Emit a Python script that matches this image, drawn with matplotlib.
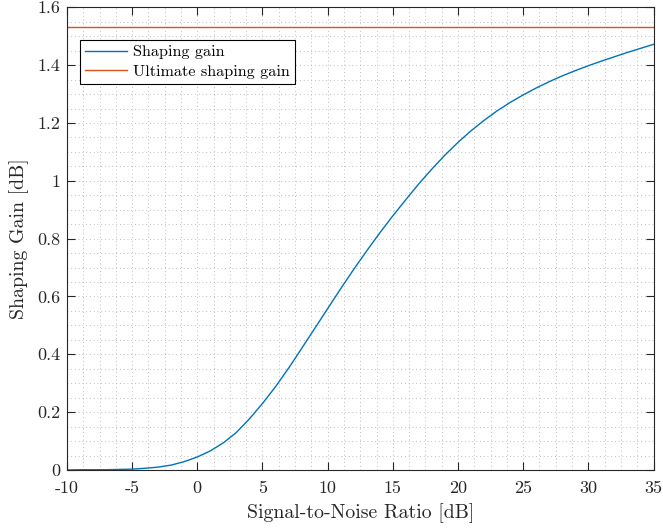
import numpy as np
import matplotlib
matplotlib.use("Agg")
import matplotlib.pyplot as plt
from matplotlib.ticker import MultipleLocator, FuncFormatter

plt.rcParams["font.family"] = "cmr10"
plt.rcParams["mathtext.fontset"] = "cm"
plt.rcParams["axes.unicode_minus"] = False
plt.rcParams["axes.formatter.use_mathtext"] = False

# Shaping gain versus SNR
snr_db = list(range(-10, 36))
shaping_gain_db = [
    0.000, 0.001, 0.001, 0.001, 0.002, 0.003, 0.006, 0.010, 0.017, 0.029,
    0.045, 0.066, 0.094, 0.130, 0.177, 0.230, 0.288, 0.352, 0.420, 0.489,
    0.558, 0.627, 0.694, 0.758, 0.820, 0.879, 0.935, 0.990, 1.041, 1.089,
    1.133, 1.173, 1.209, 1.242, 1.271, 1.297, 1.321, 1.343, 1.363, 1.381,
    1.398, 1.414, 1.429, 1.444, 1.458, 1.472,
]
ultimate_gain_db = 10 * np.log10(np.pi * np.e / 6)

x_ticks = [-10, -5, 0, 5, 10, 15, 20, 25, 30, 35]
y_ticks = [0, 0.2, 0.4, 0.6, 0.8, 1.0, 1.2, 1.4, 1.6]

blue = "#0072BD"
orange = "#D95319"
axis_col = "#262626"

fig = plt.figure(figsize=(6.63, 5.30), dpi=100)
ax = fig.add_axes([0.101, 0.1132, 0.8847, 0.873])

ax.plot(snr_db, shaping_gain_db, color=blue, lw=1.0, label="Shaping gain")
ax.axhline(ultimate_gain_db, color=orange, lw=1.0, label="Ultimate shaping gain")

ax.set_xlim(-10, 35)
ax.set_ylim(0, 1.6)
ax.set_xticks(x_ticks)
ax.set_yticks(y_ticks)
ax.xaxis.set_minor_locator(MultipleLocator(1.25))
ax.yaxis.set_minor_locator(MultipleLocator(0.05))
ax.yaxis.set_major_formatter(FuncFormatter(lambda v, p: f"{v:g}"))
ax.xaxis.set_major_formatter(FuncFormatter(lambda v, p: f"{v:g}"))

ax.grid(True, which="both", linestyle=(0, (1, 3.5)), color="#a8a8a8", lw=0.6)
ax.set_axisbelow(True)

ax.tick_params(which="major", direction="in", length=6, width=0.8,
               top=True, right=True, colors=axis_col, labelsize=13,
               labelcolor="#262626", pad=5)
ax.tick_params(axis="x", which="major", pad=8)
ax.tick_params(which="minor", length=0, top=True, right=True)
for s in ax.spines.values():
    s.set_color(axis_col)
    s.set_linewidth(0.8)

ax.set_xlabel("Signal-to-Noise Ratio [dB]", fontsize=14.3, color="#262626", labelpad=5)
ax.set_ylabel("Shaping Gain [dB]", fontsize=14.3, color="#262626", labelpad=6)

leg = ax.legend(loc="upper left", bbox_to_anchor=(0.022, 0.929), fontsize=11.7,
                frameon=True, fancybox=False, edgecolor="black",
                framealpha=1, handlelength=2.6, borderpad=0.3,
                labelspacing=0.3, handletextpad=0.4, borderaxespad=0)
leg.get_frame().set_linewidth(0.8)

fig.savefig("out.png", dpi=100)
